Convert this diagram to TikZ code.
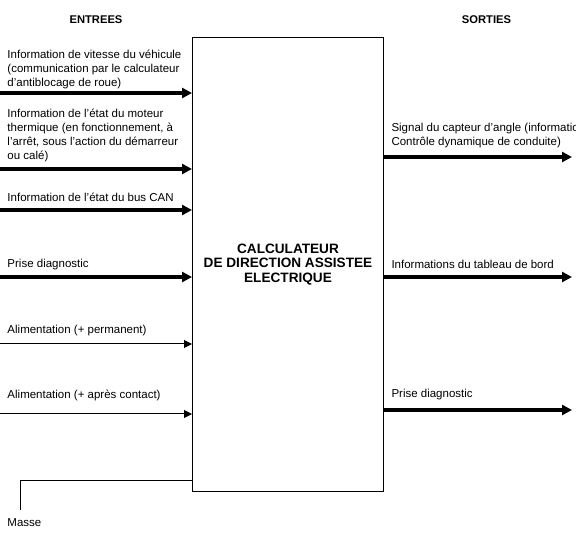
\documentclass[tikz,border=0pt]{standalone}
\usepackage{fontspec}
\setmainfont{Liberation Sans}
\usetikzlibrary{arrows.meta}
\tikzset{
  every picture/.style={x=1pt, y=-1pt, line width=1pt},
  ecu/.style={draw, minimum width=191pt, minimum height=454pt, align=center, font=\bfseries\fontsize{13.6}{14.5}\selectfont},
  lbl/.style={anchor=north west, inner sep=0pt, align=left, font=\fontsize{11.5}{14}\selectfont},
  hdr/.style={font=\bfseries\fontsize{11.2}{12}\selectfont, inner sep=0pt},
  sig/.style={-{Triangle[length=10pt, width=10pt]}, line width=3.5pt},
  pwr/.style={-{Triangle[length=8pt, width=8pt]}, line width=1pt},
}

\begin{document}
\begin{tikzpicture}
  \useasboundingbox (0,0) rectangle (576,537);
  \clip (0,0) rectangle (576,537);
  % the computer
  \node[ecu, anchor=north west] (ecu) at (192,37) {CALCULATEUR\\DE DIRECTION ASSISTEE\\ELECTRIQUE};
  \node[hdr] (hin) at (96,19.5) {ENTREES};
  \node[hdr] (hout) at (486.5,19.5) {SORTIES};
  % inputs
  \foreach \y/\t/\n/\txt in {93/50/a/{Information de vitesse du véhicule\\(communication par le calculateur\\d’antiblocage de roue)},
      169/109/b/{Information de l’état du moteur\\thermique (en fonctionnement, à\\l’arrêt, sous l’action du démarreur\\ou calé)},
      210/193/c/{Information de l’état du bus CAN},
      277/259/d/{Prise diagnostic}} {
    \node[lbl] (in\n) at (7,\t) {\txt};
    \coordinate (s\n) at (0,\y);
    \draw[sig] (s\n) -- (s\n -| ecu.west);
  }
  \foreach \y/\t/\n/\txt in {344/325/e/{Alimentation (+ permanent)},
      414/390/f/{Alimentation (+ après contact)}} {
    \node[lbl] (in\n) at (7,\t) {\txt};
    \coordinate (s\n) at (0,\y);
    \draw[pwr] (s\n) -- (s\n -| ecu.west);
  }
  % ground
  \coordinate (gnd) at (20,510);
  \draw (ecu.south west) ++(0,-12) -| (gnd);
  \node[lbl] (masse) at (7,518) {Masse};
  % outputs
  \foreach \y/\t/\n/\txt in {157/123/a/{Signal du capteur d’angle (information\\Contrôle dynamique de conduite)},
      277/260/b/{Informations du tableau de bord},
      410/389/c/{Prise diagnostic}} {
    \node[lbl] (out\n) at (391,\t) {\txt};
    \coordinate (e\n) at (572,\y);
    \draw[sig] (e\n -| ecu.east) -- (e\n);
  }
\end{tikzpicture}
\end{document}
